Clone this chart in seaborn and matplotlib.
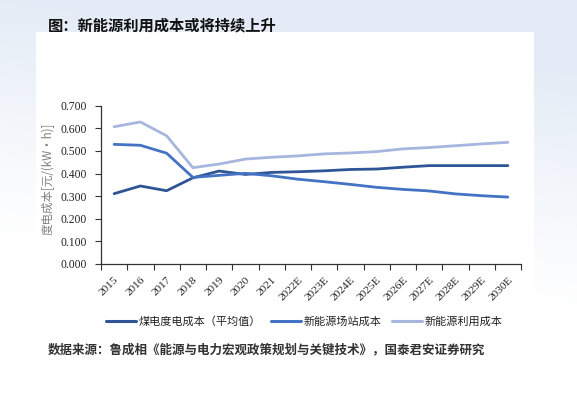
import numpy as np
import pandas as pd
import matplotlib
matplotlib.use("Agg")
import matplotlib.pyplot as plt
import seaborn as sns
from matplotlib.patches import Rectangle
from matplotlib.lines import Line2D

years = ["2015", "2016", "2017", "2018", "2019", "2020", "2021", "2022E",
         "2023E", "2024E", "2025E", "2026E", "2027E", "2028E", "2029E", "2030E"]
coal = [0.311, 0.345, 0.324, 0.381, 0.411, 0.396, 0.405, 0.408,
        0.412, 0.418, 0.420, 0.428, 0.435, 0.435, 0.435, 0.435]
station = [0.529, 0.525, 0.490, 0.383, 0.392, 0.401, 0.390, 0.375,
           0.364, 0.352, 0.339, 0.330, 0.323, 0.310, 0.302, 0.296]
usage = [0.607, 0.628, 0.567, 0.426, 0.442, 0.464, 0.472, 0.478,
         0.487, 0.491, 0.497, 0.509, 0.515, 0.523, 0.531, 0.538]
series_names = ["煤电度电成本（平均值）", "新能源场站成本", "新能源利用成本"]
colors = ["#2F5597", "#4472C4", "#A7B6DF"]
yticks = [0.0, 0.1, 0.2, 0.3, 0.4, 0.5, 0.6, 0.7]

title = "图：新能源利用成本或将持续上升"
source = "数据来源：鲁成相《能源与电力宏观政策规划与关键技术》，国泰君安证券研究"
ylabel = "度电成本[元/(kW·h)]"

df = pd.DataFrame({
    "year": years * 3,
    "value": coal + station + usage,
    "series": [series_names[0]] * len(years) + [series_names[1]] * len(years) + [series_names[2]] * len(years),
})
df["pos"] = df["year"].map({y: i for i, y in enumerate(years)})

sns.set_theme(style="white")
cjk = ["Noto Sans CJK SC", "DejaVu Sans"]
serif = ["Liberation Serif", "DejaVu Serif"]
plt.rcParams["font.family"] = cjk

W, H = 577, 393
fig = plt.figure(figsize=(W / 100, H / 100), dpi=100)

# background gradient
bg = fig.add_axes([0, 0, 1, 1], zorder=-10)
yy, xx = np.mgrid[0:H, 0:W]
t = np.clip(1.0 - (yy / H) * 1.6 + (xx / W) * 0.3, 0, 1) ** 1.2
top = np.array([0.895, 0.925, 0.965])
img = np.ones((H, W, 3)) * (1 - t[..., None]) + top * t[..., None]
bg.imshow(img, extent=[0, W, H, 0], aspect="auto")
bg.add_patch(Rectangle((36, 32), 534 - 36, H - 32, facecolor="white", edgecolor="none"))
bg.set_xlim(0, W)
bg.set_ylim(H, 0)
bg.axis("off")

ax = fig.add_axes([101 / W, 1 - 264 / H, (521 - 101) / W, (264 - 105.7) / H])
ax.set_facecolor("none")
sns.lineplot(data=df, x="pos", y="value", hue="series", palette=colors,
             hue_order=series_names, linewidth=2.0, ax=ax, legend=False, sort=False)

ax.set_xlim(-0.5, len(years) - 0.5)
ax.set_ylim(0, 0.7)
ax.set_yticks(yticks)
ax.set_yticklabels([f"{v:.3f}" for v in yticks], fontfamily=serif, fontsize=8.4, color="#222222")
ax.set_xticks(range(len(years)))
ax.set_xticklabels(years, rotation=45, ha="right", rotation_mode="anchor",
                   fontfamily=serif, fontsize=8.2, color="#222222")
ax.set_xticks(np.arange(-0.5, len(years), 1.0), minor=True)
ax.tick_params(axis="x", which="major", length=0, pad=8)
ax.tick_params(axis="x", which="minor", length=4, width=0.8, color="#333333", direction="out", bottom=True)
ax.tick_params(axis="y", which="major", length=4, width=0.8, color="#333333", direction="out", left=True, pad=6)
for s in ["top", "right"]:
    ax.spines[s].set_visible(False)
for s in ["left", "bottom"]:
    ax.spines[s].set_color("#333333")
    ax.spines[s].set_linewidth(0.9)
ax.set_xlabel("")
ax.set_ylabel("")
fig.text(48 / W, 1 - 179 / H, ylabel, rotation=90, ha="center", va="center",
         fontsize=8.3, color="#808080", family=cjk)

handles = [Line2D([0], [0], color=c, lw=2.2) for c in colors]
fig.legend(handles, series_names, loc="center", bbox_to_anchor=(304 / W, 1 - 322 / H),
           ncol=3, frameon=False, handlelength=2.7, handletextpad=0.25,
           columnspacing=0.9, prop={"family": cjk, "size": 8.0},
           labelcolor="#222222")

fig.text(48 / W, 1 - 25 / H, title, ha="left", va="center", fontsize=11,
         fontweight="bold", color="#111111", family=cjk)
fig.text(48 / W, 1 - 350 / H, source, ha="left", va="center", fontsize=9,
         fontweight="bold", color="#333333", family=cjk)

fig.savefig("out.png", dpi=100)
